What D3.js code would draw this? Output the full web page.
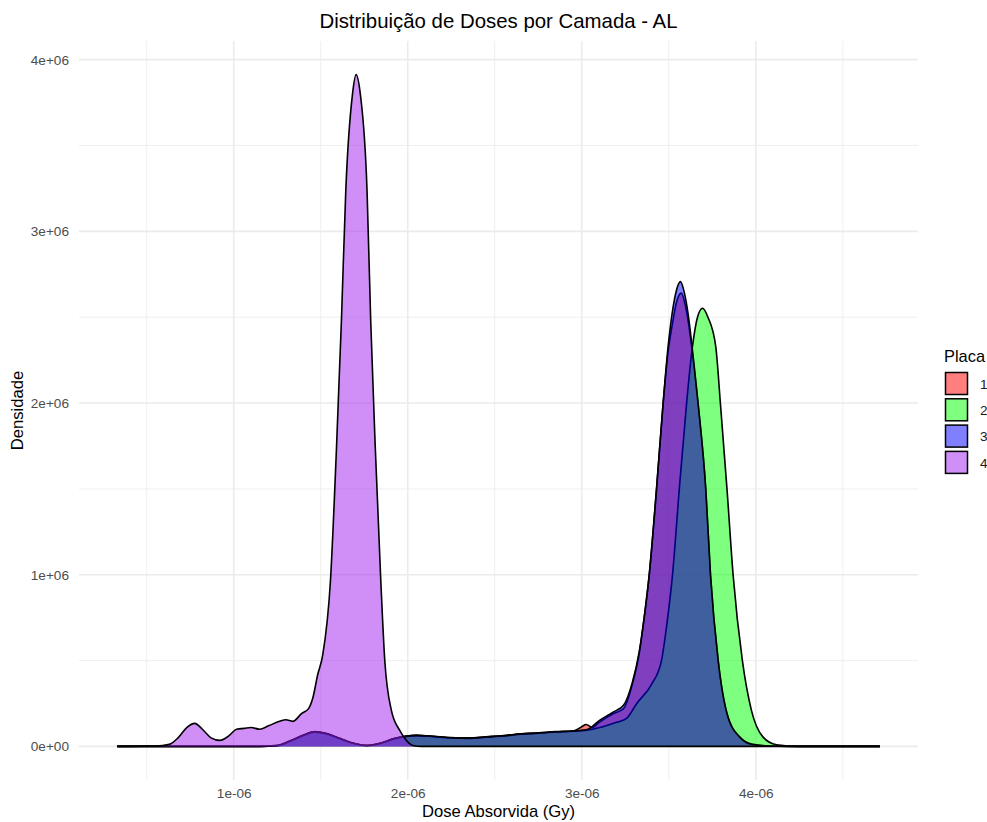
<!DOCTYPE html>
<html>
<head>
<meta charset="utf-8">
<script src="https://cdn.jsdelivr.net/npm/d3@7"></script>
<style>
  body { margin: 0; background: #fff; }
  text { font-family: "Liberation Sans", Arial, sans-serif; }
</style>
</head>
<body>
<div id="chart"></div>
<script>
let width = 987, height = 822;

// dose in 1e-6 Gy, density in 1e6
const unitX = 1e-6, unitY = 1e6;

const placas = ["1", "2", "3", "4"];
const cores = ["#FF0000", "#00FF00", "#0000FF", "#A020F0"];

const dose1 = [0.33, 1.15, 1.25, 1.32, 1.4, 1.466, 1.53, 1.6, 1.68, 1.764, 1.85, 1.92, 1.983, 2.05, 2.15, 2.25, 2.35, 2.45, 2.55, 2.65, 2.75, 2.85, 2.95, 3.0, 3.025, 3.06, 3.1, 3.18, 3.24, 3.29, 3.33, 3.36, 3.387, 3.429, 3.467, 3.496, 3.519, 3.545, 3.572, 3.595, 3.611, 3.64, 3.669, 3.713, 3.74, 3.784, 3.835, 3.908, 3.98, 4.08, 4.2, 4.713];
const dens1 = [0, 0, 0.005, 0.03, 0.066, 0.086, 0.076, 0.05, 0.02, 0.005, 0.021, 0.046, 0.058, 0.065, 0.058, 0.05, 0.049, 0.056, 0.063, 0.074, 0.079, 0.086, 0.09, 0.115, 0.128, 0.11, 0.14, 0.19, 0.22, 0.36, 0.54, 0.76, 0.99, 1.49, 1.99, 2.3, 2.45, 2.59, 2.64, 2.57, 2.48, 2.26, 1.99, 1.49, 0.995, 0.5, 0.19, 0.054, 0.012, 0.002, 0, 0];

const dose2 = [0.33, 1.15, 1.25, 1.32, 1.4, 1.466, 1.53, 1.6, 1.68, 1.764, 1.85, 1.92, 1.983, 2.05, 2.15, 2.25, 2.35, 2.45, 2.55, 2.65, 2.75, 2.85, 2.95, 3.03, 3.121, 3.2, 3.259, 3.316, 3.4, 3.458, 3.49, 3.521, 3.56, 3.602, 3.636, 3.665, 3.694, 3.725, 3.77, 3.797, 3.835, 3.87, 3.923, 3.975, 4.042, 4.119, 4.25, 4.713];
const dens2 = [0, 0, 0.004, 0.028, 0.064, 0.083, 0.074, 0.049, 0.02, 0.006, 0.02, 0.044, 0.057, 0.063, 0.057, 0.05, 0.047, 0.054, 0.061, 0.071, 0.077, 0.084, 0.088, 0.095, 0.115, 0.14, 0.165, 0.25, 0.36, 0.5, 0.72, 0.995, 1.493, 1.994, 2.328, 2.5, 2.552, 2.5, 2.328, 1.994, 1.493, 0.995, 0.5, 0.21, 0.054, 0.01, 0, 0];

const dose3 = [0.33, 1.15, 1.25, 1.32, 1.4, 1.466, 1.53, 1.6, 1.68, 1.764, 1.85, 1.92, 1.983, 2.05, 2.15, 2.25, 2.35, 2.45, 2.55, 2.65, 2.75, 2.85, 2.95, 3.03, 3.1, 3.18, 3.24, 3.29, 3.33, 3.36, 3.387, 3.429, 3.467, 3.496, 3.519, 3.545, 3.567, 3.59, 3.611, 3.64, 3.669, 3.713, 3.74, 3.784, 3.835, 3.908, 3.98, 4.08, 4.2, 4.713];
const dens3 = [0, 0, 0.006, 0.031, 0.065, 0.085, 0.075, 0.051, 0.021, 0.005, 0.02, 0.045, 0.059, 0.064, 0.059, 0.051, 0.048, 0.055, 0.062, 0.072, 0.078, 0.085, 0.09, 0.098, 0.15, 0.2, 0.24, 0.37, 0.55, 0.76, 0.995, 1.493, 1.994, 2.328, 2.52, 2.66, 2.707, 2.64, 2.52, 2.27, 1.994, 1.493, 0.995, 0.5, 0.19, 0.054, 0.012, 0.002, 0, 0];

const dose4 = [0.33, 0.55, 0.63, 0.68, 0.73, 0.776, 0.82, 0.87, 0.92, 0.97, 1.017, 1.06, 1.1, 1.149, 1.2, 1.264, 1.3, 1.339, 1.391, 1.43, 1.454, 1.483, 1.511, 1.556, 1.59, 1.619, 1.644, 1.682, 1.703, 1.728, 1.766, 1.787, 1.814, 1.845, 1.868, 1.906, 1.954, 1.992, 2.03, 2.08, 4.713];
const dens4 = [0, 0.002, 0.012, 0.05, 0.11, 0.134, 0.1, 0.05, 0.035, 0.06, 0.1, 0.105, 0.11, 0.1, 0.12, 0.146, 0.155, 0.146, 0.192, 0.22, 0.28, 0.42, 0.53, 0.968, 1.726, 2.484, 3.24, 3.795, 3.913, 3.795, 3.24, 2.484, 1.726, 0.968, 0.5, 0.21, 0.093, 0.035, 0.005, 0, 0];

const doses = [dose1, dose2, dose3, dose4];
const dens = [dens1, dens2, dens3, dens4];

const xTicks = [1e-6, 2e-6, 3e-6, 4e-6];
const xTickLabels = ["1e-06", "2e-06", "3e-06", "4e-06"];
const xMinor = [0.5e-6, 1.5e-6, 2.5e-6, 3.5e-6, 4.5e-6];
const yTicks = [0, 1e6, 2e6, 3e6, 4e6];
const yTickLabels = ["0e+00", "1e+06", "2e+06", "3e+06", "4e+06"];
const yMinor = [0.5e6, 1.5e6, 2.5e6, 3.5e6];

let panel = {left: 79, right: 918, top: 41, bottom: 780};

const svg = d3.select("#chart").append("svg")
    .attr("width", width)
    .attr("height", height);

// ggplot style 5% expansion on both scales
let xMin = d3.min(doses, d => d3.min(d)) * unitX;
let xMax = d3.max(doses, d => d3.max(d)) * unitX;
let xPad = (xMax - xMin) * 0.05;
let yMax = d3.max(dens, d => d3.max(d)) * unitY;
let yPad = yMax * 0.05;

let x = d3.scaleLinear().domain([xMin - xPad, xMax + xPad]).range([panel.left, panel.right]);
let y = d3.scaleLinear().domain([-yPad, yMax + yPad]).range([panel.bottom, panel.top]);

// grid
let grid = svg.append("g");
grid.selectAll(".xminor").data(xMinor).enter().append("line")
    .attr("x1", d => x(d)).attr("x2", d => x(d))
    .attr("y1", panel.top).attr("y2", panel.bottom)
    .attr("stroke", "#EBEBEB").attr("stroke-width", 0.8);
grid.selectAll(".yminor").data(yMinor).enter().append("line")
    .attr("y1", d => y(d)).attr("y2", d => y(d))
    .attr("x1", panel.left).attr("x2", panel.right)
    .attr("stroke", "#EBEBEB").attr("stroke-width", 0.8);
grid.selectAll(".xmajor").data(xTicks).enter().append("line")
    .attr("x1", d => x(d)).attr("x2", d => x(d))
    .attr("y1", panel.top).attr("y2", panel.bottom)
    .attr("stroke", "#EBEBEB").attr("stroke-width", 1.6);
grid.selectAll(".ymajor").data(yTicks).enter().append("line")
    .attr("y1", d => y(d)).attr("y2", d => y(d))
    .attr("x1", panel.left).attr("x2", panel.right)
    .attr("stroke", "#EBEBEB").attr("stroke-width", 1.6);

// densities
let area = d3.area()
    .x(d => x(d[0] * unitX))
    .y0(y(0))
    .y1(d => y(d[1] * unitY))
    .curve(d3.curveMonotoneX);
let line = d3.line()
    .x(d => x(d[0] * unitX))
    .y(d => y(d[1] * unitY))
    .curve(d3.curveMonotoneX);

placas.forEach((p, i) => {
    let pts = doses[i].map((d, j) => [d, dens[i][j]]);
    let g = svg.append("g");
    g.append("path").datum(pts)
        .attr("d", area)
        .attr("fill", cores[i])
        .attr("fill-opacity", 0.5);
    g.append("path").datum(pts)
        .attr("d", line)
        .attr("fill", "none")
        .attr("stroke", "black")
        .attr("stroke-width", 1.6)
        .attr("stroke-linejoin", "round");
});

// axes
let xAxis = svg.append("g")
    .attr("transform", `translate(0,${panel.bottom})`)
    .call(d3.axisBottom(x).tickValues(xTicks).tickSize(0).tickPadding(8)
        .tickFormat((d, i) => xTickLabels[i]));
xAxis.select(".domain").remove();
xAxis.selectAll("text").attr("font-size", 13.6).attr("fill", "#4D4D4D")
    .attr("font-family", "Liberation Sans, Arial, sans-serif").attr("dy", "0.71em");

let yAxis = svg.append("g")
    .attr("transform", `translate(${panel.left},0)`)
    .call(d3.axisLeft(y).tickValues(yTicks).tickSize(0).tickPadding(10)
        .tickFormat((d, i) => yTickLabels[i]));
yAxis.select(".domain").remove();
yAxis.selectAll("text").attr("font-size", 13.6).attr("fill", "#4D4D4D")
    .attr("font-family", "Liberation Sans, Arial, sans-serif");

// titles
svg.append("text")
    .attr("x", (panel.left + panel.right) / 2).attr("y", 28)
    .attr("text-anchor", "middle").attr("font-size", 20.4)
    .text("Distribuição de Doses por Camada - AL");

svg.append("text")
    .attr("x", (panel.left + panel.right) / 2).attr("y", 817)
    .attr("text-anchor", "middle").attr("font-size", 16.6)
    .text("Dose Absorvida (Gy)");

svg.append("text")
    .attr("transform", `translate(23,${(panel.top + panel.bottom) / 2}) rotate(-90)`)
    .attr("text-anchor", "middle").attr("font-size", 16.6)
    .text("Densidade");

// legend
let legend = svg.append("g").attr("transform", "translate(944,0)");
legend.append("text").attr("x", 0).attr("y", 362).attr("font-size", 16.4).text("Placa");
let keys = legend.selectAll(".key").data(placas).enter().append("g")
    .attr("transform", (d, i) => `translate(0,${372 + i * 26.3})`);
keys.append("rect")
    .attr("x", 1.5).attr("y", 0.5).attr("width", 22).attr("height", 22)
    .attr("fill", (d, i) => cores[i]).attr("fill-opacity", 0.5)
    .attr("stroke", "black").attr("stroke-width", 1.5);
keys.append("text")
    .attr("x", 36).attr("y", 12).attr("dy", "0.35em")
    .attr("font-size", 13.6).attr("fill", "#1a1a1a")
    .text(d => d);
</script>
</body>
</html>
